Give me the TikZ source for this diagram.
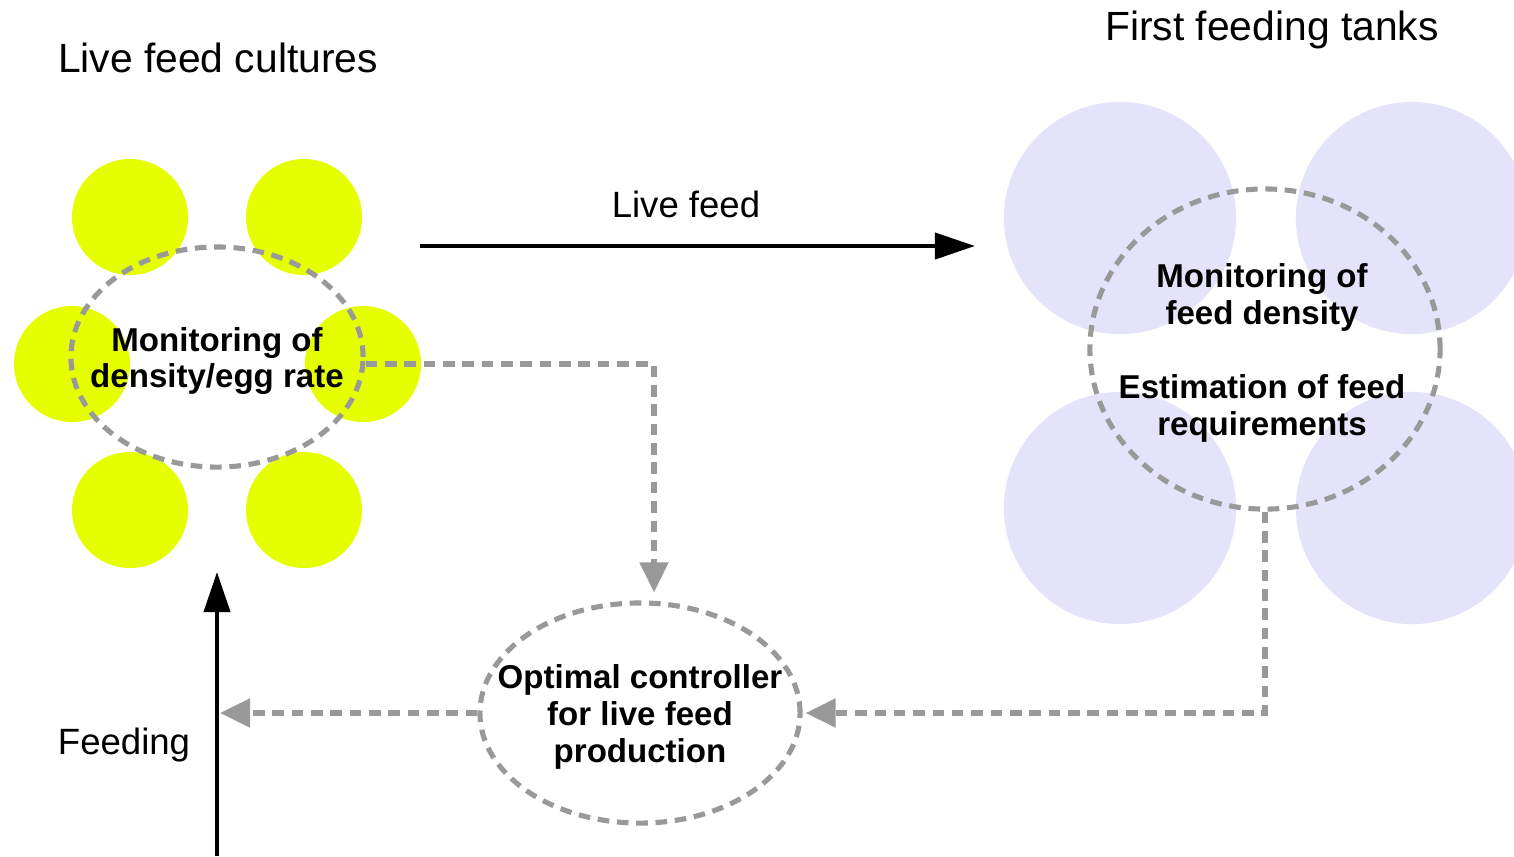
\documentclass[tikz,border=0pt]{standalone}
\usepackage{fontspec}
\setmainfont{Liberation Sans}
\usetikzlibrary{
  arrows.meta, % for Triangle arrow tips
  shapes.geometric, % for the ellipse shape of the monitoring groups
  positioning, % for relative positioning of the labels
}
\definecolor{culturefill}{RGB}{230,255,0}
\definecolor{tankfill}{RGB}{227,227,250}
\definecolor{signal}{RGB}{153,153,153}
\tikzset{
  culture/.style={ % style for each live feed culture
    circle,fill=culturefill, % drawn as a filled yellow circle
    inner sep=0pt, % no padding, the size is set below
    minimum size=1.16cm, % every culture has the same size
  },
  tank/.style={ % style for each first feeding tank
    circle,fill=tankfill, % drawn as a pale blue disc
    inner sep=0pt,
    minimum size=2.32cm,
  },
  group/.style={ % style for the dashed monitoring groups
    ellipse,draw=signal, % drawn as a grey ellipse
    line width=1.45pt,
    dash pattern=on 3.3pt off 2.2pt,
    inner sep=0pt, % the ellipse size is given per group
  },
  grouptext/.style={ % style for the text inside a group
    align=center,
    font=\bfseries\fontsize{9.4}{10.5}\selectfont,
    yshift=-0.04cm, % sit a little below the centre
  },
  title/.style={ % style for the headings
    font=\fontsize{11.6}{14}\selectfont,
  },
  label/.style={ % style for the flow labels
    font=\fontsize{10.4}{12.5}\selectfont,
  },
  flow/.style={ % style for the solid material flows
    -{Triangle[length=0.4cm,width=0.26cm]},
    line width=1.1pt,
  },
  info/.style={ % style for the dashed information flows
    -{Triangle[length=0.3cm,width=0.28cm]},
    draw=signal,
    line width=1.45pt,
    dash pattern=on 3.3pt off 2.2pt,
  },
}

\begin{document}
\begin{tikzpicture}[x=0.01cm,y=-0.01cm]
	\useasboundingbox[fill=white] (0,0) rectangle (1514,856);
	
	% live feed cultures
	\node[culture] (c1) at (130,217) {};
	\node[culture] (c2) at (304,217) {};
	\node[culture] (c3) at (72,364) {};
	\node[culture] (c4) at (363,364) {};
	\node[culture] (c5) at (130,510) {};
	\node[culture] (c6) at (304,510) {};
	
	% first feeding tanks
	\node[tank] (t1) at (1120,218) {};
	\node[tank] (t2) at (1412,218) {};
	\node[tank] (t3) at (1120,508) {};
	\node[tank] (t4) at (1412,508) {};
	
	\node[title] (cultures) at (218,58) {Live feed cultures};
	\node[title] (tanks) at (1272,30) {First feeding tanks};
	
	% dashed groups, text set on top of each
	\node[group, minimum width=2.92cm, minimum height=2.2cm] (monlive) at (217,357) {};
	\node[grouptext] (monlivetext) at (monlive.center) {Monitoring of\\density/egg rate};
	
	\node[group, minimum width=3.5cm, minimum height=3.2cm] (montank) at (1265,349) {};
	\node[grouptext] (montanktext) at ([xshift=-0.03cm]montank.center)
		{Monitoring of\\feed density\\[10.5pt]Estimation of feed\\requirements};
	
	\node[group, minimum width=3.2cm, minimum height=2.2cm] (ctrl) at (640,713) {};
	\node[grouptext] (ctrltext) at (ctrl.center) {Optimal controller\\for live feed\\production};
	
	\coordinate (feedfrom) at (420,246);
	\coordinate (feedto) at (975,246);
	\coordinate (feedbot) at (217,856);
	\coordinate (feedtop) at (217,572);
	
	\draw[flow] (feedfrom) -- (feedto);
	\node[label] (livefeed) at (686,204) {Live feed};
	\draw[flow] (feedbot) -- (feedtop);
	\node[label] (feeding) at (124,745) {Feeding};
	
	\draw[info] ([yshift=-0.07cm]monlive.east) -| ([xshift=0.14cm,yshift=0.08cm]ctrl.north);
	\draw[info] (montank.south) |- ([xshift=0.03cm]ctrl.east);
	\draw[info] (ctrl.west) -- ([xshift=0.03cm]ctrl.west -| feedtop);
\end{tikzpicture}
\end{document}
